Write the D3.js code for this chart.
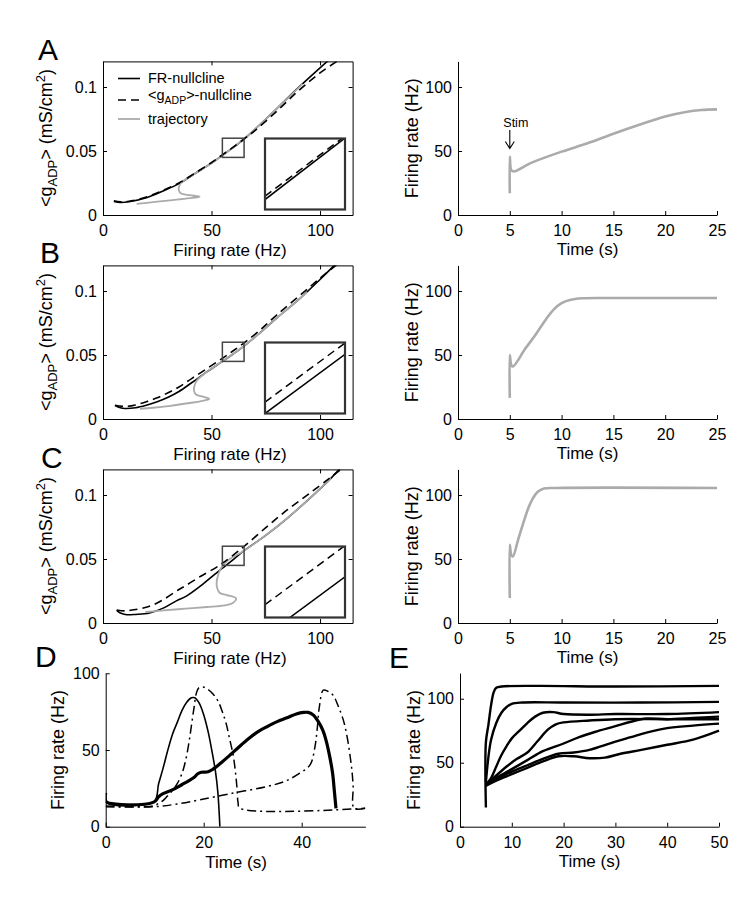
<!DOCTYPE html>
<html lang="en">
<head>
<meta charset="UTF-8">
<title>FR / gADP nullclines and firing rate traces</title>
<script src="https://d3js.org/d3.v7.min.js"></script>
<style>
  body { margin: 0; background: #fff; }
  svg { display: block; }
</style>
</head>
<body>
<div id="figure"></div>
<script>
// ---------- data ----------
const phaseXTicks = [0, 50, 100];
const phaseYTicks = [0, 0.05, 0.1];
const timeTicksABC = [0, 5, 10, 15, 20, 25];
const rateTicks = [0, 50, 100];
const timeTicksD = [0, 20, 40];
const timeTicksE = [0, 10, 20, 30, 40, 50];
const zoomBox = [[55, 65], [0.045, 0.06]]; // region blown up in the insets

// A
const frNullA = [[5,0.0105],[8,0.0098],[12,0.0104],[20,0.0135],[28,0.019],[35,0.0245],[42,0.032],[50,0.0405],[55,0.0466],[60,0.0528],[65,0.0592],[70,0.067],[80,0.083],[90,0.0995],[100,0.115],[104,0.121]];
const gNullA = [[5,0.0112],[8,0.0104],[12,0.0108],[20,0.014],[28,0.0196],[35,0.025],[42,0.0323],[50,0.041],[55,0.047],[60,0.053],[65,0.0594],[70,0.066],[80,0.081],[90,0.097],[100,0.111],[110,0.1225]];
const trajA = [[15.5,0.0087],[25,0.0104],[35,0.0122],[41,0.0134],[44.5,0.0143],[40,0.0155],[36,0.0168],[35,0.019],[35,0.022],[36,0.0252],[42,0.032],[50,0.0405],[60,0.0528],[70,0.067],[80,0.083],[92,0.1025]];
const insetFrA = [[55,0.0471],[65,0.0601]];
const insetGA = [[55,0.0478],[65,0.0605]];
const rateA = [[5,17],[5,45.5],[5.15,35],[5.4,34],[7,40.5],[10,49.5],[12.5,56],[15,63.5],[17.5,70.5],[20,77],[22,80.5],[23.5,82],[25,82.5]];

// B
const frNullB = [[5.5,0.0106],[8,0.0088],[10,0.0082],[15,0.0088],[20,0.0108],[25,0.0135],[30,0.017],[35,0.0215],[41,0.0285],[48,0.037],[55,0.045],[60,0.0508],[65,0.057],[72,0.0668],[80,0.0788],[90,0.093],[100,0.109],[106,0.119],[108,0.1225]];
const gNullB = [[5.5,0.0108],[10,0.0098],[15,0.011],[20,0.0135],[25,0.0166],[30,0.0205],[35,0.025],[41,0.0318],[48,0.0395],[55,0.0474],[60,0.0533],[65,0.0595],[72,0.069],[80,0.0812],[90,0.0955],[100,0.110],[108,0.121]];
const trajB = [[17,0.008],[23,0.0088],[31,0.0103],[40,0.0125],[46,0.0142],[49,0.0157],[46,0.0174],[43,0.019],[42,0.0215],[42,0.025],[43,0.0295],[48,0.037],[55,0.045],[60,0.0508],[65,0.057],[72,0.0668],[80,0.0788],[90,0.093],[94,0.099]];
const insetFrB = [[55,0.045],[65,0.0575]];
const insetGB = [[55,0.0474],[65,0.0599]];
const rateB = [[5,16.5],[5,50],[5.15,42],[5.3,41],[6.5,55],[7.5,66],[8.5,78],[9.3,86],[10,90.5],[10.8,93],[12,94.3],[15,94.5],[25,94.5]];

// C
const frNullC = [[6.3,0.0098],[8,0.0078],[10.9,0.0065],[15,0.0067],[21.4,0.0078],[28,0.0118],[34,0.0175],[38.4,0.021],[45,0.029],[52.2,0.039],[55,0.0428],[60,0.0495],[65,0.0565],[75,0.0685],[85,0.082],[95,0.097],[105,0.113],[109,0.1205]];
const gNullC = [[6.3,0.0102],[10,0.0095],[15,0.0105],[21.4,0.013],[28,0.0185],[35,0.0262],[38.4,0.0295],[45,0.0365],[52.2,0.0435],[55.2,0.0469],[60,0.053],[65,0.0598],[75,0.0745],[85,0.0885],[95,0.101],[105,0.114],[110,0.1205]];
const trajC = [[19.5,0.0086],[28,0.0098],[38,0.0112],[48,0.0125],[56,0.0138],[59.8,0.0156],[61.3,0.0193],[57,0.0218],[53.7,0.0236],[52.5,0.028],[52.5,0.0338],[54.4,0.043],[58,0.0495],[65,0.0565],[75,0.0685],[85,0.082],[95,0.097],[105,0.113]];
const insetFrC = [[55,0.0411],[65,0.0536]];
const insetGC = [[55,0.0477],[65,0.0602]];
const rateC = [[5,19.5],[5,61],[5.15,53],[5.3,52],[5.8,65],[6.3,78],[6.8,90],[7.2,97],[7.7,102.5],[8.3,105],[9.5,105.5],[25,105.5]];

// D
const dThin = [[0,16],[9.8,16],[10.8,28],[11.7,38],[12.6,49],[13.6,60],[14.6,68],[15.6,76],[16.5,81],[17.5,84],[18.2,84],[19,81],[19.9,74],[20.9,62],[21.7,49],[22.4,36],[22.9,22],[23.3,0]];
const dThick = [[0,22],[0.2,16],[9.8,16],[10.8,19.5],[11.7,21.5],[13.6,24],[15.6,27.5],[17,30],[18,32],[18.8,34.5],[19.5,35.5],[20.9,35.8],[21.9,37.5],[23.3,41],[25.3,46.5],[27.2,52],[29.2,57.5],[31.1,62],[33.1,65.5],[35,68.5],[37,71],[38.9,73.5],[40.4,74.5],[41.3,74.5],[42.3,73],[43.3,69],[44.3,63],[45,56],[45.7,46],[46.3,35],[46.7,22],[47,12]];
const dDashDot1 = [[0,13.5],[9.7,13.5],[10.7,15],[11.7,17],[12.6,20],[13.6,23.5],[14.6,28],[15.6,35],[16.3,43],[17,55],[17.5,66],[18,77],[18.5,87],[19,90.5],[19.9,91],[20.9,89.5],[21.9,86.5],[22.9,82],[23.8,75],[24.6,67],[25.3,57],[26,47],[26.5,35],[26.8,25],[27,16],[27.4,12],[53,12]];
const dDashDot2 = [[0,13],[9.7,13],[14,14.5],[19.2,17.5],[26,21.9],[32.9,26.2],[36.5,29.5],[39.6,34.9],[41.7,40.3],[42.7,52],[43.2,65],[43.6,78],[44.4,89],[45.2,88.5],[46.4,85.7],[47.4,79],[48.5,69.5],[49.3,58],[49.9,45.6],[50.3,35],[50.5,26.2],[50.7,12],[53,12]];

// E
const eTrace1 = [[5,15],[5,66],[5.5,80],[6,95],[6.5,105],[7,108.5],[8,109.5],[15,110],[30,109.5],[50,110]];
const eTrace2 = [[5,35],[5.5,55],[6,68],[7,81],[8,89],[9,93.5],[10,96],[12,97],[20,97],[35,97],[50,97.5]];
const eTrace3 = [[5,33],[6,38],[7,47],[8,56],[9,63],[10,69],[11.5,75],[13,81],[14.5,86],[16,89],[18,89.5],[20,88],[25,87.5],[30,88],[40,88],[50,89.5]];
const eTrace4 = [[5,33],[7,40],[9,47],[11,53],[13,58],[15,67],[17,76],[18.5,80],[20,81.5],[25,83],[30,84],[40,84],[50,84]];
const eTrace5 = [[5,33],[7,38],[10,45],[13,52],[16,59],[20,65],[23,70],[26,74],[30,78.5],[33,82],[36,84.5],[40,84],[45,85],[50,86]];
const eTrace6 = [[5,32],[7,37],[10,43],[13,48],[16,53],[19,57],[22,58],[25,60],[27,62.5],[30,66.5],[33,70],[36,73.5],[40,77],[45,79],[50,80.5]];
const eTrace7 = [[5,32],[7,36],[10,41],[13,46],[16,51],[19,55],[22,55],[25,53.5],[28,54],[31,57],[35,60],[40,64],[45,68],[50,75]];

// ---------- drawing ----------
const FONT = "'Liberation Sans', Arial, Helvetica, sans-serif";
const GREY = "#ababab";

const svg = d3.select("#figure").append("svg")
  .attr("width", 752).attr("height", 900)
  .attr("font-family", FONT);
const defs = svg.append("defs");

let clipCount = 0;
function clipFor(x, y) {
  const id = "clip" + (clipCount++);
  const [x0, x1] = x.range(), [y0, y1] = y.range();
  defs.append("clipPath").attr("id", id).append("rect")
    .attr("x", Math.min(x0, x1)).attr("y", Math.min(y0, y1))
    .attr("width", Math.abs(x1 - x0)).attr("height", Math.abs(y1 - y0));
  return `url(#${id})`;
}

function styleAxis(g) {
  g.attr("font-size", 16).attr("font-family", FONT);
  g.selectAll("path, line").attr("stroke", "#000").attr("stroke-width", 1);
  g.selectAll("text").attr("fill", "#000");
}

function lineGen(x, y) {
  return d3.line().x(d => x(d[0])).y(d => y(d[1])).curve(d3.curveCatmullRom.alpha(0.5));
}

function leftBottomAxes(g, x, y, xTicks, yTicks, yFmt) {
  g.append("g").attr("transform", `translate(0,${y.range()[0]})`)
    .call(d3.axisBottom(x).tickValues(xTicks).tickSizeInner(-4).tickSizeOuter(0).tickPadding(10))
    .call(styleAxis);
  g.append("g").attr("transform", `translate(${x.range()[0]},0)`)
    .call(d3.axisLeft(y).tickValues(yTicks).tickSizeInner(-4).tickSizeOuter(0).tickPadding(6).tickFormat(yFmt || (d => d)))
    .call(styleAxis);
}

function rateLabel(x, yMid) {
  svg.append("text").attr("transform", `translate(${x},${yMid}) rotate(-90)`)
    .attr("text-anchor", "middle").attr("font-size", 18).text("Firing rate (Hz)");
}

function xLabel(xMid, y, txt) {
  svg.append("text").attr("x", xMid).attr("y", y)
    .attr("text-anchor", "middle").attr("font-size", 17).text(txt);
}

function phasePanel(bottom, fr, gn, traj, inFr, inG) {
  const x = d3.scaleLinear().domain([0, 115]).range([103, 352.6]);
  const y = d3.scaleLinear().domain([0, 0.12]).range([bottom, bottom - 153.6]);
  const g = svg.append("g");
  leftBottomAxes(g, x, y, phaseXTicks, phaseYTicks);
  g.append("g").attr("transform", `translate(0,${y.range()[1]})`)
    .call(d3.axisTop(x).tickValues(phaseXTicks).tickSizeInner(-4).tickSizeOuter(0).tickFormat(""))
    .call(styleAxis);
  g.append("g").attr("transform", `translate(${x.range()[1]},0)`)
    .call(d3.axisRight(y).tickValues(phaseYTicks).tickSizeInner(-4).tickSizeOuter(0).tickFormat(""))
    .call(styleAxis);

  const line = lineGen(x, y);
  const plot = g.append("g").attr("clip-path", clipFor(x, y));
  plot.append("path").attr("d", line(fr)).attr("fill", "none").attr("stroke", "#000").attr("stroke-width", 1.6);
  plot.append("path").attr("d", line(traj)).attr("fill", "none").attr("stroke", GREY).attr("stroke-width", 1.8);
  plot.append("path").attr("d", line(gn)).attr("fill", "none").attr("stroke", "#000").attr("stroke-width", 1.6)
    .attr("stroke-dasharray", "8,5");

  // zoom box
  g.append("rect")
    .attr("x", x(zoomBox[0][0])).attr("y", y(zoomBox[1][1]))
    .attr("width", x(zoomBox[0][1]) - x(zoomBox[0][0]))
    .attr("height", y(zoomBox[1][0]) - y(zoomBox[1][1]))
    .attr("fill", "none").attr("stroke", "#444").attr("stroke-width", 1.5);

  // inset
  const ix = d3.scaleLinear().domain(zoomBox[0]).range([265, 345]);
  const iy = d3.scaleLinear().domain(zoomBox[1]).range([bottom - 5.5, bottom - 76.5]);
  const iline = d3.line().x(d => ix(d[0])).y(d => iy(d[1]));
  g.append("rect").attr("x", 265).attr("y", iy.range()[1]).attr("width", 80)
    .attr("height", iy.range()[0] - iy.range()[1]).attr("fill", "#fff");
  const inset = g.append("g").attr("clip-path", clipFor(ix, iy));
  inset.append("path").attr("d", iline(inFr)).attr("fill", "none").attr("stroke", "#000").attr("stroke-width", 1.5);
  inset.append("path").attr("d", iline(inG)).attr("fill", "none").attr("stroke", "#000").attr("stroke-width", 1.5)
    .attr("stroke-dasharray", "8,5");
  g.append("rect").attr("x", 265).attr("y", iy.range()[1]).attr("width", 80)
    .attr("height", iy.range()[0] - iy.range()[1])
    .attr("fill", "none").attr("stroke", "#333").attr("stroke-width", 2.2);

  // labels
  xLabel(230, bottom + 41, "Firing rate (Hz)");
  const yl = svg.append("text").attr("transform", `translate(52,${bottom - 77}) rotate(-90)`)
    .attr("text-anchor", "middle").attr("font-size", 18);
  yl.append("tspan").text("<g");
  yl.append("tspan").attr("font-size", 13).attr("dy", 5).text("ADP");
  yl.append("tspan").attr("dy", -5).text("> (mS/cm");
  yl.append("tspan").attr("font-size", 13).attr("dy", -7).text("2");
  yl.append("tspan").attr("dy", 7).text(")");
  return { x, y };
}

function timePanel(bottom, rate) {
  const x = d3.scaleLinear().domain([0, 25]).range([458, 717]);
  const y = d3.scaleLinear().domain([0, 120]).range([bottom, bottom - 153.6]);
  const g = svg.append("g");
  leftBottomAxes(g, x, y, timeTicksABC, rateTicks);
  g.append("path").attr("d", lineGen(x, y)(rate)).attr("fill", "none")
    .attr("stroke", GREY).attr("stroke-width", 2.6);
  xLabel(587.5, bottom + 39.5, "Time (s)");
  rateLabel(418, bottom - 76.8);
  return { x, y };
}

const rowBottoms = [215, 419, 623];
phasePanel(rowBottoms[0], frNullA, gNullA, trajA, insetFrA, insetGA);
phasePanel(rowBottoms[1], frNullB, gNullB, trajB, insetFrB, insetGB);
phasePanel(rowBottoms[2], frNullC, gNullC, trajC, insetFrC, insetGC);
const tA = timePanel(rowBottoms[0], rateA);
timePanel(rowBottoms[1], rateB);
timePanel(rowBottoms[2], rateC);

// legend in A
const legend = svg.append("g").attr("font-size", 14.5);
legend.append("line").attr("x1", 118).attr("x2", 140).attr("y1", 78.5).attr("y2", 78.5)
  .attr("stroke", "#000").attr("stroke-width", 1.6);
legend.append("text").attr("x", 148).attr("y", 83).text("FR-nullcline");
legend.append("line").attr("x1", 118).attr("x2", 140).attr("y1", 100).attr("y2", 100)
  .attr("stroke", "#000").attr("stroke-width", 1.6).attr("stroke-dasharray", "8,5");
const lg2 = legend.append("text").attr("x", 148).attr("y", 99.5);
lg2.append("tspan").text("<g");
lg2.append("tspan").attr("font-size", 10.5).attr("dy", 4).text("ADP");
lg2.append("tspan").attr("dy", -4).text(">-nullcline");
legend.append("line").attr("x1", 118).attr("x2", 140).attr("y1", 119).attr("y2", 119)
  .attr("stroke", GREY).attr("stroke-width", 1.8);
legend.append("text").attr("x", 148).attr("y", 124).text("trajectory");

// Stim arrow in A (right)
const stimX = tA.x(5);
svg.append("text").attr("x", stimX + 6).attr("y", 126.5).attr("text-anchor", "middle")
  .attr("font-size", 12.5).text("Stim");
svg.append("path")
  .attr("d", `M${stimX},130 V148.5 M${stimX - 4.5},141.5 L${stimX},148.5 L${stimX + 4.5},141.5`)
  .attr("fill", "none").attr("stroke", "#000").attr("stroke-width", 1.1);

// D
{
  const x = d3.scaleLinear().domain([0, 53]).range([105.7, 365.4]);
  const y = d3.scaleLinear().domain([0, 100]).range([826.7, 673.3]);
  const g = svg.append("g");
  leftBottomAxes(g, x, y, timeTicksD, rateTicks);
  const line = lineGen(x, y);
  const plot = g.append("g").attr("clip-path", clipFor(x, y));
  plot.append("path").attr("d", line(dDashDot2)).attr("fill", "none").attr("stroke", "#000")
    .attr("stroke-width", 1.5).attr("stroke-dasharray", "9,4,2,4");
  plot.append("path").attr("d", line(dDashDot1)).attr("fill", "none").attr("stroke", "#000")
    .attr("stroke-width", 1.5).attr("stroke-dasharray", "9,4,2,4");
  plot.append("path").attr("d", line(dThin)).attr("fill", "none").attr("stroke", "#000").attr("stroke-width", 1.6);
  plot.append("path").attr("d", line(dThick)).attr("fill", "none").attr("stroke", "#000").attr("stroke-width", 3.2);
  xLabel(236, 868, "Time (s)");
  rateLabel(63.5, 750);
}

// E
{
  const x = d3.scaleLinear().domain([0, 50]).range([460, 719]);
  const y = d3.scaleLinear().domain([0, 120]).range([826.7, 673.1]);
  const g = svg.append("g");
  leftBottomAxes(g, x, y, timeTicksE, rateTicks);
  const line = lineGen(x, y);
  [eTrace1, eTrace2, eTrace3, eTrace4, eTrace5, eTrace6, eTrace7].forEach(tr => {
    g.append("path").attr("d", line(tr)).attr("fill", "none").attr("stroke", "#000").attr("stroke-width", 2.4);
  });
  xLabel(589.5, 867, "Time (s)");
  rateLabel(420, 750);
}

// panel letters
const letters = [["A", 38, 60], ["B", 40, 263], ["C", 41, 468], ["D", 35, 666.5], ["E", 389, 668]];
svg.selectAll("text.letter").data(letters).enter().append("text")
  .attr("class", "letter")
  .attr("x", d => d[1]).attr("y", d => d[2])
  .attr("font-size", 30).text(d => d[0]);
</script>
</body>
</html>
